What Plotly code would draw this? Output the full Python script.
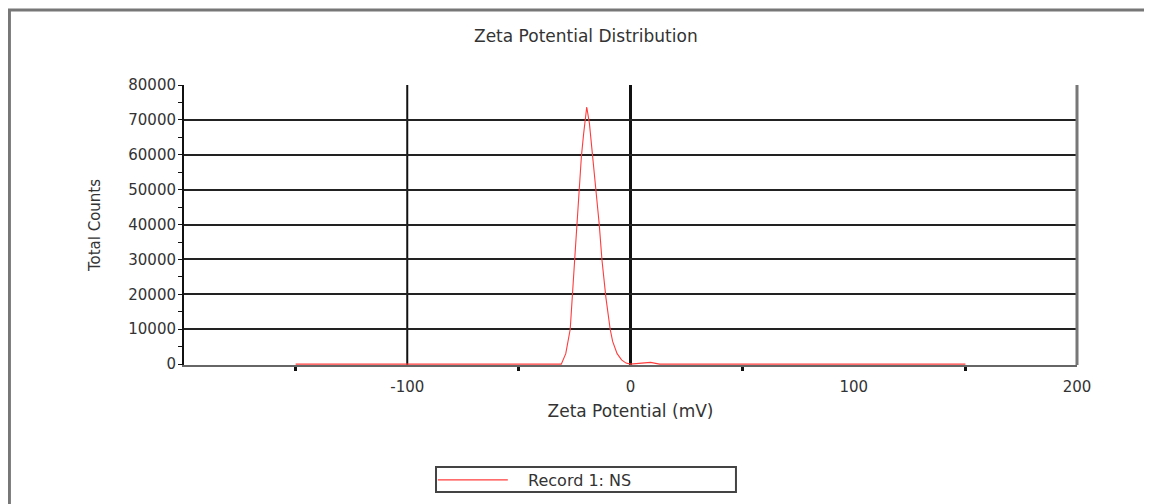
import plotly.graph_objects as go

# Data
zeta_mv = [-150, -31, -29, -27, -25, -23, -22, -21, -19.6, -18.4, -17, -15.3, -14, -12.8,
           -11, -9.1, -8, -6, -4, -2, 0, 5, 9, 13, 150]
total_counts = [0, 0, 3000, 10000, 30000, 51000, 59500, 66000, 73700, 69000, 60000, 50000,
                40000, 30000, 19000, 10000, 6500, 3000, 1200, 300, 0, 300, 500, 0, 0]

x_tick_vals = [-100, 0, 100, 200]
x_tick_text = ["-100", "0", "100", "200"]
y_tick_vals = [0, 10000, 20000, 30000, 40000, 50000, 60000, 70000, 80000]
v_grid = [-100, 0]
v_grid_widths = [2, 3]
series_name = "Record 1: NS"

FONT = "DejaVu Sans"
TXT = "#333333"

fig = go.Figure()
fig.add_trace(go.Scatter(
    x=zeta_mv, y=total_counts, mode="lines", name="\u00a0\u00a0\u00a0" + series_name,
    line=dict(color="rgb(255,60,60)", width=1.1),
))

shapes = []
for xv, w in zip(v_grid, v_grid_widths):
    shapes.append(dict(type="line", xref="x", yref="paper", x0=xv, x1=xv, y0=0, y1=1,
                       line=dict(color="#111111", width=w), layer="below"))
# right border of plot
shapes.append(dict(type="line", xref="paper", yref="paper", x0=1, x1=1, y0=0, y1=1,
                   line=dict(color="#777777", width=3)))
# outer frame (top/left)
shapes.append(dict(type="rect", xref="paper", yref="paper", x0=-0.1955, x1=1.4, y0=-1.0, y1=1.268,
                   line=dict(color="#777777", width=3), layer="below"))
# legend box
shapes.append(dict(type="rect", xref="paper", yref="paper", x0=0.2822, x1=0.6181,
                   y0=-0.4536, y1=-0.3643, line=dict(color="#444444", width=2)))

fig.update_layout(
    width=1144, height=496,
    paper_bgcolor="white", plot_bgcolor="white",
    margin=dict(l=176, r=75, t=77, b=139, autoexpand=False),
    font=dict(family=FONT, size=15, color=TXT),
    title=dict(text="Zeta Potential Distribution", x=0.45, xanchor="center", xref="paper",
               y=1 - 28 / 496, yanchor="middle", font=dict(size=17, color=TXT, family=FONT)),
    showlegend=True,
    legend=dict(orientation="h", x=0.441, xanchor="center", y=-0.4107, yanchor="middle",
                borderwidth=0, bgcolor="rgba(0,0,0,0)", entrywidth=205, itemwidth=70,
                font=dict(size=16, color=TXT, family=FONT)),
    shapes=shapes,
    xaxis=dict(
        range=[-200, 200], tickvals=x_tick_vals, ticktext=x_tick_text,
        showgrid=False, zeroline=False,
        showline=True, linecolor="#666666", linewidth=2,
        ticks="outside", ticklen=7, tickcolor="rgba(0,0,0,0)",
        minor=dict(dtick=100, tick0=-150, ticks="outside", ticklen=4, tickwidth=3,
                   tickcolor="#111111", showgrid=False),
        tickfont=dict(size=15, color=TXT),
        title=dict(text="Zeta Potential (mV)", standoff=10, font=dict(size=17, color=TXT)),
    ),
    yaxis=dict(
        range=[-250, 80000], tickvals=y_tick_vals, tickformat="d",
        showgrid=True, gridcolor="#222222", gridwidth=2, zeroline=False,
        showline=True, linecolor="#111111", linewidth=2,
        ticks="outside", ticklen=3, tickcolor="#111111",
        minor=dict(dtick=5000, ticks="outside", ticklen=4, tickcolor="#111111", showgrid=False),
        tickfont=dict(size=15, color=TXT),
        title=dict(text="Total Counts", standoff=24, font=dict(size=15, color=TXT)),
    ),
)

fig.write_html("out.html")
